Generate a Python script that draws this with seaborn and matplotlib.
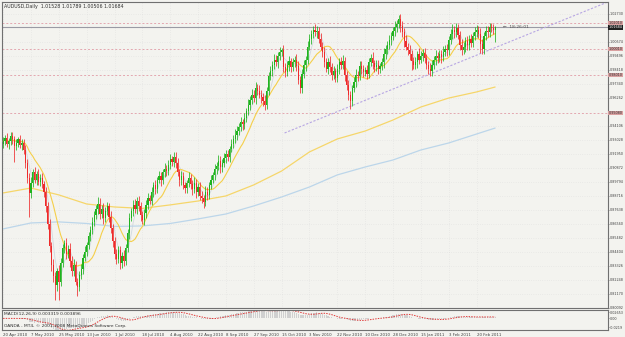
import numpy as np
import pandas as pd
import matplotlib
matplotlib.use("Agg")
import matplotlib.pyplot as plt
import seaborn as sns

# AUDUSD daily closes, 20 Apr 2010 .. 25 Feb 2011 (broker with Sunday bars)
close = [
    0.9290, 0.9315, 0.9270, 0.9295, 0.9330, 0.9305, 0.9250, 0.9280, 0.9305, 0.9260,
    0.9280, 0.9220, 0.9120, 0.9010, 0.8890, 0.8970, 0.9050, 0.8990, 0.9040, 0.8980,
    0.9010, 0.8960, 0.8900, 0.8790, 0.8650, 0.8480, 0.8340, 0.8250, 0.8180, 0.8290,
    0.8210, 0.8350, 0.8470, 0.8510, 0.8420, 0.8460, 0.8370, 0.8290, 0.8340, 0.8210,
    0.8170, 0.8260, 0.8310, 0.8390, 0.8440, 0.8490, 0.8560, 0.8610, 0.8670, 0.8720,
    0.8770, 0.8810, 0.8730, 0.8770, 0.8700, 0.8750, 0.8790, 0.8710, 0.8620, 0.8520,
    0.8420, 0.8380, 0.8450, 0.8350, 0.8410, 0.8370, 0.8470, 0.8580, 0.8700, 0.8750,
    0.8800, 0.8770, 0.8830, 0.8790, 0.8720, 0.8680, 0.8740, 0.8800, 0.8850, 0.8830,
    0.8900, 0.8950, 0.8920, 0.8990, 0.9020, 0.8990, 0.9050, 0.9080, 0.9060, 0.9110,
    0.9150, 0.9130, 0.9170, 0.9120, 0.9050, 0.8990, 0.9020, 0.8950, 0.8930, 0.8970,
    0.9010, 0.8960, 0.8920, 0.8970, 0.8900, 0.8940, 0.8870, 0.8850, 0.8820, 0.8900,
    0.8880, 0.8950, 0.8990, 0.9030, 0.9080, 0.9100, 0.9140, 0.9090, 0.9120, 0.9160,
    0.9190, 0.9170, 0.9230, 0.9270, 0.9310, 0.9340, 0.9370, 0.9400, 0.9440, 0.9420,
    0.9470, 0.9520, 0.9570, 0.9610, 0.9650, 0.9620, 0.9700, 0.9680, 0.9650, 0.9630,
    0.9600, 0.9570, 0.9680, 0.9790, 0.9830, 0.9880, 0.9920, 0.9900, 0.9950, 0.9980,
    0.9990, 0.9860, 0.9820, 0.9880, 0.9910, 0.9860, 0.9900, 0.9920, 0.9870, 0.9760,
    0.9700, 0.9810, 0.9880, 0.9920, 1.0020, 1.0080, 1.0120, 1.0150, 1.0130, 1.0140,
    1.0080, 1.0020, 0.9980, 0.9900, 0.9850, 0.9900, 0.9860, 0.9800, 0.9830, 0.9780,
    0.9850, 0.9900, 0.9880, 0.9910, 0.9800, 0.9720, 0.9650, 0.9600, 0.9700, 0.9750,
    0.9800, 0.9790, 0.9870, 0.9850, 0.9820, 0.9840, 0.9810, 0.9900, 0.9930, 0.9890,
    0.9860, 0.9880, 0.9850, 0.9870, 0.9900, 0.9960, 1.0000, 1.0030, 1.0070, 1.0100,
    1.0140, 1.0170, 1.0190, 1.0230, 1.0180, 1.0130, 1.0060, 1.0020, 0.9990, 0.9960,
    0.9910, 0.9880, 0.9900, 0.9960, 0.9920, 0.9950, 0.9970, 0.9930, 0.9880, 0.9850,
    0.9830, 0.9880, 0.9920, 0.9950, 0.9930, 0.9960, 0.9940, 0.9980, 1.0000, 0.9990,
    1.0070, 1.0120, 1.0150, 1.0130, 1.0160, 1.0110, 1.0030, 0.9990, 1.0020, 1.0060,
    1.0030, 1.0080, 1.0050, 1.0100, 1.0130, 1.0150, 1.0120, 1.0040, 1.0000, 1.0100,
    1.0140, 1.0130, 1.0170, 1.0160, 1.0150, 1.0168,
]
first_open = 0.9270

# wick lengths above / below the body, in pips
wick_up = [
    30, 25, 40, 20, 35, 30, 25, 30, 20, 35, 25, 30, 40, 30, 35, 45, 30, 40, 25, 35,
    30, 35, 25, 40, 30, 45, 35, 40, 30, 25, 45, 40, 30, 20, 35, 30, 50, 35, 40, 30,
    25, 30, 35, 30, 40, 25, 35, 30, 40, 35, 30, 48, 40, 30, 45, 35, 30, 25, 40, 35,
    30, 40, 35, 30, 25, 45, 30, 35, 40, 30, 35, 45, 30, 40, 35, 30, 25, 35, 40, 30,
    35, 30, 40, 25, 45, 35, 30, 40, 25, 35, 40, 30, 38, 35, 45, 30, 40, 35, 30, 25,
    40, 30, 35, 45, 30, 25, 35, 40, 30, 45, 35, 30, 40, 25, 35, 30, 45, 35, 30, 40,
    30, 35, 25, 40, 30, 45, 35, 30, 40, 25, 35, 30, 45, 30, 40, 35, 50, 30, 40, 35,
    30, 45, 25, 35, 40, 30, 45, 35, 30, 40, 20, 45, 35, 30, 40, 25, 35, 30, 45, 35,
    30, 40, 35, 30, 45, 35, 30, 28, 40, 35, 30, 45, 35, 40, 30, 35, 45, 30, 40, 25,
    35, 30, 40, 45, 30, 35, 40, 30, 25, 35, 45, 30, 40, 35, 30, 25, 40, 35, 30, 45,
    30, 40, 35, 25, 30, 45, 35, 30, 40, 35, 30, 45, 35, 33, 40, 35, 30, 45, 30, 40,
    35, 30, 40, 25, 45, 35, 30, 40, 35, 30, 45, 35, 30, 40, 25, 35, 30, 45, 35, 40,
    30, 35, 43, 30, 40, 35, 30, 45, 35, 30, 40, 25, 35, 30, 40, 35, 30, 45, 35, 30,
    40, 35, 31, 30, 35, 11,
]
wick_dn = [
    35, 30, 25, 40, 30, 35, 120, 30, 35, 25, 40, 30, 35, 45, 180, 35, 30, 25, 40, 30,
    35, 30, 40, 45, 35, 40, 50, 45, 112, 40, 142, 35, 30, 40, 35, 30, 45, 40, 35, 30,
    75, 35, 30, 40, 25, 35, 30, 40, 35, 30, 25, 40, 35, 30, 45, 35, 30, 40, 35, 45,
    40, 35, 30, 45, 35, 40, 30, 35, 40, 25, 35, 30, 40, 35, 45, 30, 35, 40, 30, 25,
    30, 40, 35, 30, 25, 45, 30, 35, 40, 30, 35, 30, 40, 35, 30, 45, 35, 30, 40, 35,
    30, 35, 40, 30, 45, 35, 30, 35, 42, 30, 40, 35, 30, 25, 35, 40, 30, 45, 35, 30,
    35, 30, 40, 25, 35, 30, 40, 35, 30, 45, 35, 30, 25, 40, 35, 30, 40, 35, 30, 45,
    35, 40, 30, 35, 25, 40, 35, 30, 45, 35, 30, 40, 35, 30, 45, 35, 30, 40, 35, 30,
    38, 35, 30, 45, 35, 30, 40, 35, 30, 45, 35, 30, 40, 35, 30, 45, 35, 40, 30, 35,
    30, 40, 35, 30, 45, 35, 40, 61, 35, 30, 40, 35, 30, 45, 35, 30, 40, 35, 30, 45,
    35, 30, 40, 35, 30, 45, 35, 40, 30, 35, 30, 40, 35, 30, 45, 35, 40, 30, 35, 40,
    70, 35, 30, 45, 35, 30, 40, 35, 30, 45, 40, 35, 30, 40, 35, 30, 45, 35, 30, 40,
    35, 30, 40, 45, 35, 30, 40, 35, 30, 45, 35, 40, 30, 35, 30, 40, 35, 70, 40, 35,
    30, 40, 35, 30, 35, 99,
]

# long moving averages at every 15th bar
ma_bars = [0, 15, 30, 45, 60, 75, 90, 105, 120, 135, 150, 165, 180, 195, 210, 225, 240, 255, 265]
ma_yellow = [0.8892, 0.8930, 0.8877, 0.8807, 0.8784, 0.8773, 0.8800, 0.8830, 0.8869, 0.8954,
             0.9061, 0.9208, 0.9308, 0.9369, 0.9454, 0.9554, 0.9623, 0.9670, 0.9708]
ma_blue = [0.8615, 0.8661, 0.8669, 0.8657, 0.8634, 0.8638, 0.8657, 0.8692, 0.8730, 0.8792,
           0.8861, 0.8938, 0.9031, 0.9092, 0.9146, 0.9223, 0.9277, 0.9346, 0.9392]

levels = [1.0201, 1.0001, 0.9801, 0.9508]
bid = 1.01684
trend_bars = [151.6, 326.9]
trend_price = [0.9354, 1.0370]

price_ticks = [1.02730, 1.00574, 0.99496, 0.98418, 0.97340, 0.96262, 0.94106, 0.93028,
               0.91950, 0.90872, 0.89794, 0.88716, 0.87638, 0.86560, 0.85482, 0.84404,
               0.83326, 0.82248, 0.81170, 0.80092]
date_bars = [0, 15, 30, 45, 60, 75, 90, 105, 120, 135, 150, 165, 180, 195, 210, 225, 240, 255]
date_labels = ["20 Apr 2010", "7 May 2010", "25 May 2010", "13 Jun 2010", "1 Jul 2010",
               "18 Jul 2010", "4 Aug 2010", "22 Aug 2010", "8 Sep 2010", "27 Sep 2010",
               "15 Oct 2010", "3 Nov 2010", "22 Nov 2010", "10 Dec 2010", "28 Dec 2010",
               "15 Jan 2011", "3 Feb 2011", "20 Feb 2011"]

sns.set_style("white")
plt.rcParams['font.family'] = ['DejaVu Sans']
BG = '#f3f3ef'
FS = 2.45

c = np.array(close)
o = np.array([first_open] + close[:-1])
bars = np.arange(len(c))
top = np.maximum(o, c)
bot = np.minimum(o, c)
hi = top + np.array(wick_up) / 1e4
lo = bot - np.array(wick_dn) / 1e4
cols = np.where(c >= o, '#1fb31f', '#ee2a2a')

fig = plt.figure(figsize=(6.25, 3.37), dpi=100)
fig.patch.set_facecolor(BG)
ax = fig.add_axes([0.0032, 0.0861, 0.9696, 0.908])
mac = fig.add_axes([0.0032, 0.0208, 0.9696, 0.0593])
for a in (ax, mac):
    a.set_facecolor(BG)
    for s in a.spines.values():
        s.set_color('#707070')
        s.set_linewidth(0.8)

xlim = (-0.6, 325.8)
ax.set_xlim(*xlim)
ax.set_ylim(0.8006, 1.0363)

# dotted grid
for t in price_ticks:
    ax.axhline(t, color='#d6d6d6', lw=0.4, ls=(0, (1, 3)), zorder=0)
for b in date_bars:
    ax.axvline(b, color='#d6d6d6', lw=0.4, ls=(0, (1, 3)), zorder=0)

# levels, bid line, trend line
for lv in levels:
    ax.axhline(lv, color='#e3a7b0', lw=0.7, ls=(0, (2, 2)), zorder=1)
ax.axhline(bid, color='#9a9aa4', lw=0.8, zorder=1)
ax.plot(trend_bars, trend_price, color='#b7a6e3', lw=0.8, ls=(0, (2, 1.5)), zorder=1)

# moving averages
sns.lineplot(x=ma_bars, y=ma_blue, ax=ax, color='#bcd6ea', lw=0.9, zorder=2)
sns.lineplot(x=ma_bars, y=ma_yellow, ax=ax, color='#f6d66a', lw=0.9, zorder=2)
short_ma = pd.Series(c).rolling(13, min_periods=1).mean()
fast_ma = pd.Series(c).rolling(5, min_periods=1).mean()
sns.lineplot(x=bars, y=fast_ma, ax=ax, color='#c9d2db', lw=0.6, alpha=0.8, zorder=2)
sns.lineplot(x=bars, y=short_ma, ax=ax, color='#f5cf4a', lw=0.8, zorder=3)

# candles
ax.vlines(bars, lo, hi, colors=cols, lw=0.55, zorder=4)
ax.bar(bars, np.maximum(top - bot, 0.0004), bottom=bot, width=0.62,
       color=cols, linewidth=0, zorder=5)

ax.text(0.004, 0.992, "AUDUSD,Daily  1.01528 1.01789 1.00506 1.01684",
        transform=ax.transAxes, fontsize=3.4, va='top', ha='left', color='#303030')
ax.text(269, bid, "\u2190  18:26:01", fontsize=3.2, va='center', ha='left', color='#505050')

# right price scale
ax.yaxis.tick_right()
ax.set_yticks(price_ticks)
ax.set_yticklabels([f"{t:.5f}" for t in price_ticks], fontsize=FS, color='#404040')
ax.tick_params(axis='y', length=1.0, width=0.5, pad=0.5, colors='#606060', labelcolor='#404040')
ax.set_xticks([])
for lv in levels:
    ax.text(1.0012, lv, f"{lv:.5f}", transform=ax.get_yaxis_transform(), fontsize=FS,
            va='center', ha='left', color='#303030',
            bbox=dict(boxstyle='square,pad=0.12', fc='#d9a0a0', ec='none'))
ax.text(1.0012, bid, f"{bid:.5f}", transform=ax.get_yaxis_transform(), fontsize=FS,
        va='center', ha='left', color='white',
        bbox=dict(boxstyle='square,pad=0.12', fc='#202020', ec='none'))

# MACD panel
s = pd.Series(c)
macd = s.ewm(span=12, adjust=False).mean() - s.ewm(span=26, adjust=False).mean()
signal = macd.rolling(9, min_periods=1).mean()
mac.set_xlim(*xlim)
mac.set_ylim(-0.022, 0.016)
mac.bar(bars, macd, width=0.6, color='#d0d0d0', linewidth=0)
sns.lineplot(x=bars, y=signal, ax=mac, color='#e03a3a', lw=0.7, ls=(0, (1.5, 1.2)))
mac.text(0.004, 0.92, "MACD(12,26,9) 0.003319 0.003896", transform=mac.transAxes,
         fontsize=3.2, va='top', ha='left', color='#303030')
mac.text(0.004, 0.08, "OANDA - MT4, \u00a9 2001-2008 MetaQuotes Software Corp.",
         transform=mac.transAxes, fontsize=3.2, va='bottom', ha='left', color='#303030')
mac.yaxis.tick_right()
mac.set_yticks([0.012, 0.0, -0.017])
mac.set_yticklabels(["0.02653", "0.00", "-0.0219"], fontsize=FS, color='#404040')
mac.tick_params(axis='y', length=1.0, width=0.5, pad=0.5, colors='#606060', labelcolor='#404040')
mac.set_xticks(date_bars)
mac.set_xticklabels(date_labels, fontsize=2.8, ha='left', color='#404040')
mac.tick_params(axis='x', length=1.2, width=0.5, pad=0.8, colors='#606060', labelcolor='#404040')
mac.set_xlabel('')
mac.set_ylabel('')
ax.set_xlabel('')
ax.set_ylabel('')

fig.savefig('out.png', dpi=100, facecolor=BG)
